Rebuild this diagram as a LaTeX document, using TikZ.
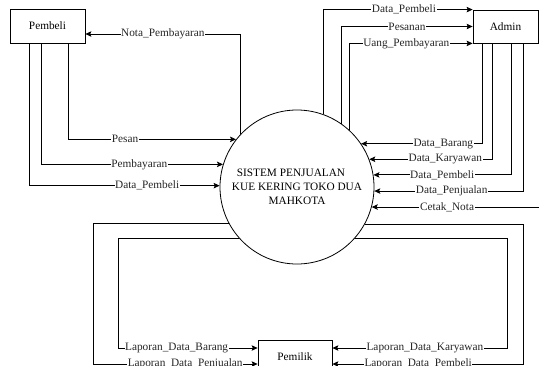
\documentclass[tikz,border=0pt]{standalone}
\usepackage{fontspec}
\setmainfont{Liberation Serif}
\usetikzlibrary{arrows.meta}
\begin{document}
\begin{tikzpicture}[x=1pt,y=-1pt,
  every node/.style={font=\fontsize{11.3}{14}\selectfont},
  entity/.style={draw, line width=0.8pt, inner sep=0pt},
  proc/.style={draw, circle, line width=0.8pt, minimum size=154pt, inner sep=0pt, align=center},
  flow/.style={line width=0.8pt, -{Stealth[length=6pt,width=5.5pt,inset=1.2pt]}},
  lbl/.style={fill=white, inner sep=0.6pt, text=black!85}]
\useasboundingbox (0,0) rectangle (539,365);
\fill[white] (0,0) rectangle (539,365);
\clip (0,0) rectangle (539,365);

% entities and process
\node[entity, minimum width=75pt, minimum height=34pt] (pembeli) at (47.5,26) {Pembeli};
\node[entity, minimum width=65pt, minimum height=33pt] (admin) at (505.5,26.5) {Admin};
\node[entity, minimum width=74pt, minimum height=34pt] (pemilik) at (295,357) {Pemilik};
\node[proc] (sys) at (297,187) {SISTEM PENJUALAN\hspace*{12pt}\\KUE KERING TOKO DUA\\MAHKOTA};
\coordinate (cn) at (560,0);

% Pembeli <-> Sistem
\draw[flow] (sys.137.7) |- node[lbl, pos=0.75] {Nota\_Pembayaran} (pembeli.east |- 0,34);
\draw[flow] (pembeli.south -| 68,0) |- node[lbl, pos=0.67] {Pesan} (sys.142.4);
\draw[flow] (pembeli.south -| 41,0) |- node[lbl, pos=0.77] {Pembayaran} (sys.163.4);
\draw[flow] (pembeli.south -| 29,0) |- node[lbl, pos=0.81] {Data\_Pembeli} (sys.179.3);

% Sistem -> Admin
\draw[flow] (sys.70.3) |- node[lbl, pos=0.77] {Data\_Pembeli} (admin.north west);
\draw[flow] (sys.55.2) |- node[lbl, pos=0.75] {Pesanan} (admin.west);
\draw[flow] (sys.47.5) |- node[lbl, pos=0.73] {Uang\_Pembayaran} (admin.south west);

% Admin -> Sistem
\draw[flow] (admin.south -| 482,0) |- node[lbl, pos=0.66] {Data\_Barang} (sys.34.8);
\draw[flow] (admin.south -| 492,0) |- node[lbl, pos=0.69] {Data\_Karyawan} (sys.21.3);
\draw[flow] (admin.south -| 511,0) |- node[lbl, pos=0.75] {Data\_Pembeli} (sys.9);
\draw[flow] (admin.south -| 523,0) |- node[lbl, pos=0.74] {Data\_Penjualan} (sys.-3);
\draw[flow] (cn |- sys.-15.1) -- node[lbl, pos=0.6] {Cetak\_Nota} (sys.-15.1);

% Sistem -> Pemilik
\draw[flow] (sys.222.5) -| (118,348) -- node[lbl, pos=0.42] {Laporan\_Data\_Barang} (pemilik.west |- 0,348);
\draw[flow] (sys.208.7) -| (93,364) -- node[lbl, pos=0.56] {Laporan\_Data\_Penjualan} (pemilik.west |- 0,364);
\draw[flow] (sys.-42.5) -| (507,348) -- node[lbl, pos=0.47] {Laporan\_Data\_Karyawan} (pemilik.east |- 0,348);
\draw[flow] (sys.-29.6) -| (523,364) -- node[lbl, pos=0.55] {Laporan\_Data\_Pembeli} (pemilik.east |- 0,364);
\end{tikzpicture}
\end{document}
